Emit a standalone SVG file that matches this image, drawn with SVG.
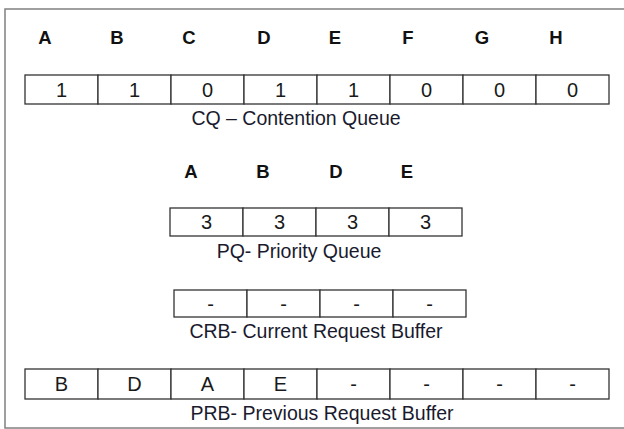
<svg xmlns="http://www.w3.org/2000/svg" width="624" height="429" viewBox="0 0 624 429">
<style>
.frame{fill:none;stroke:#808080;stroke-width:1.5}
.cell{fill:#fff;stroke:#333;stroke-width:1.3}
.v{font-family:"Liberation Sans",Arial,sans-serif;font-size:20px;fill:#1a1a1a;text-anchor:middle}
.h{font-family:"Liberation Sans",Arial,sans-serif;font-size:18.5px;font-weight:bold;fill:#111;text-anchor:middle}
.lbl{font-family:"Liberation Sans",Arial,sans-serif;font-size:19.5px;fill:#1a1a2e;text-anchor:middle}
</style>
<rect width="624" height="429" fill="#fff"/>
<rect class="frame" x="5" y="9" width="640" height="419"/>

<g id="cq-headers">
<text class="h" x="45" y="44">A</text>
<text class="h" x="117" y="44">B</text>
<text class="h" x="189" y="44">C</text>
<text class="h" x="264" y="44">D</text>
<text class="h" x="335" y="44">E</text>
<text class="h" x="408" y="44">F</text>
<text class="h" x="482" y="44">G</text>
<text class="h" x="556" y="44">H</text>
</g>
<g id="cq">
<rect class="cell" x="25" y="75" width="73" height="29"/><text class="v" x="61.5" y="97">1</text>
<rect class="cell" x="98" y="75" width="73" height="29"/><text class="v" x="134.5" y="97">1</text>
<rect class="cell" x="171" y="75" width="73" height="29"/><text class="v" x="207.5" y="97">0</text>
<rect class="cell" x="244" y="75" width="73" height="29"/><text class="v" x="280.5" y="97">1</text>
<rect class="cell" x="317" y="75" width="73" height="29"/><text class="v" x="353.5" y="97">1</text>
<rect class="cell" x="390" y="75" width="73" height="29"/><text class="v" x="426.5" y="97">0</text>
<rect class="cell" x="463" y="75" width="73" height="29"/><text class="v" x="499.5" y="97">0</text>
<rect class="cell" x="536" y="75" width="73" height="29"/><text class="v" x="572.5" y="97">0</text>
<text class="lbl" x="296" y="125">CQ – Contention Queue</text>
</g>

<g id="pq-headers">
<text class="h" x="191" y="178">A</text>
<text class="h" x="263" y="178">B</text>
<text class="h" x="336" y="178">D</text>
<text class="h" x="407" y="178">E</text>
</g>
<g id="pq">
<rect class="cell" x="170" y="208" width="73" height="28"/><text class="v" x="206.5" y="229">3</text>
<rect class="cell" x="243" y="208" width="73" height="28"/><text class="v" x="279.5" y="229">3</text>
<rect class="cell" x="316" y="208" width="73" height="28"/><text class="v" x="352.5" y="229">3</text>
<rect class="cell" x="389" y="208" width="73" height="28"/><text class="v" x="425.5" y="229">3</text>
<text class="lbl" x="299" y="258">PQ- Priority Queue</text>
</g>

<g id="crb">
<rect class="cell" x="174" y="290" width="73" height="27"/><text class="v" x="210.5" y="311">-</text>
<rect class="cell" x="247" y="290" width="73" height="27"/><text class="v" x="283.5" y="311">-</text>
<rect class="cell" x="320" y="290" width="73" height="27"/><text class="v" x="356.5" y="311">-</text>
<rect class="cell" x="393" y="290" width="73" height="27"/><text class="v" x="429.5" y="311">-</text>
<text class="lbl" x="316" y="338">CRB- Current Request Buffer</text>
</g>

<g id="prb">
<rect class="cell" x="25" y="369" width="73" height="30"/><text class="v" x="61.5" y="391">B</text>
<rect class="cell" x="98" y="369" width="73" height="30"/><text class="v" x="134.5" y="391">D</text>
<rect class="cell" x="171" y="369" width="73" height="30"/><text class="v" x="207.5" y="391">A</text>
<rect class="cell" x="244" y="369" width="73" height="30"/><text class="v" x="280.5" y="391">E</text>
<rect class="cell" x="317" y="369" width="73" height="30"/><text class="v" x="353.5" y="391">-</text>
<rect class="cell" x="390" y="369" width="73" height="30"/><text class="v" x="426.5" y="391">-</text>
<rect class="cell" x="463" y="369" width="73" height="30"/><text class="v" x="499.5" y="391">-</text>
<rect class="cell" x="536" y="369" width="73" height="30"/><text class="v" x="572.5" y="391">-</text>
<text class="lbl" x="322" y="420">PRB- Previous Request Buffer</text>
</g>
</svg>
